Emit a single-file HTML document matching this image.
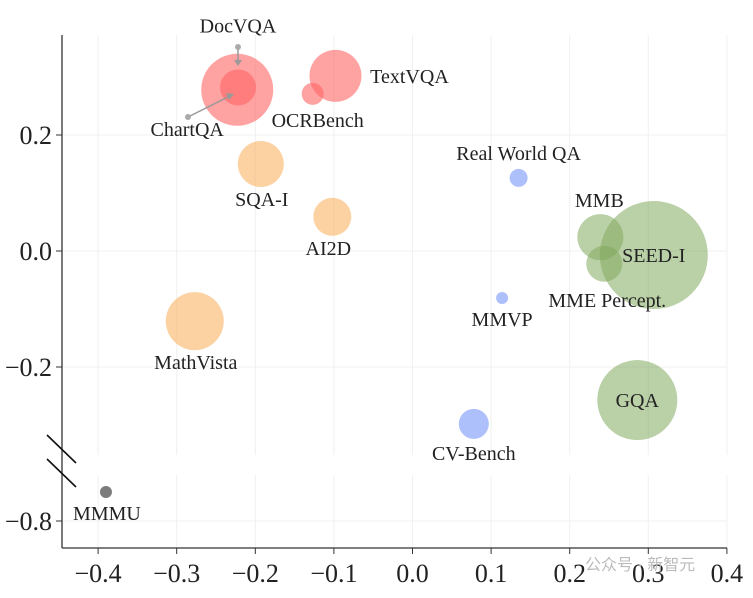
<!DOCTYPE html>
<html><head><meta charset="utf-8"><style>
body{margin:0;background:#fff;}
svg text{font-family:"Liberation Serif","Noto Serif CJK SC",serif;fill:#222;}
</style></head><body>
<svg id="chart" width="753" height="593" viewBox="0 0 753 593" xmlns="http://www.w3.org/2000/svg">
<g id="grid"></g>
<g id="bubbles"></g>
<g id="labels"></g>
<g id="axes"></g>
<text x="585" y="570" font-size="16" style="fill:#bbb;font-family:'Liberation Sans','Noto Sans CJK SC',sans-serif">公众号 · 新智元</text>
</svg>
<script>
const names=["DocVQA","ChartQA","TextVQA","OCRBench","SQA-I","AI2D","MathVista","Real World QA","MMVP","CV-Bench","MMB","MME Percept.","SEED-I","GQA","MMMU"];
const xs=[-0.222,-0.223,-0.098,-0.127,-0.193,-0.102,-0.277,0.135,0.114,0.078,0.239,0.244,0.307,0.286,-0.39];
const ys=[0.282,0.278,0.302,0.271,0.150,0.059,-0.121,0.126,-0.081,-0.298,0.024,-0.022,-0.007,-0.257,-0.75];
const sizes=[18,36,26,11,23,19,29,9,6,15,23,18,54,40,6];
const groups=["red","red","red","red","orange","orange","orange","blue","blue","blue","green","green","green","green","gray"];
const xTicks=[-0.4,-0.3,-0.2,-0.1,0.0,0.1,0.2,0.3,0.4];
const yTicks=[0.2,0.0,-0.2];
const yTicksLow=[-0.8];
const colors={red:"rgba(255,100,100,0.6)",orange:"rgba(250,180,100,0.6)",blue:"rgba(120,150,250,0.6)",green:"rgba(130,170,95,0.55)",gray:"rgba(110,110,110,0.9)"};
const X=v=>412.5+v*786;
const Y=v=>v<-0.5?521+(-0.8-v)*580:251-v*580;
const NS="http://www.w3.org/2000/svg";
function mk(tag,attrs,parent){const e=document.createElementNS(NS,tag);for(const k in attrs)e.setAttribute(k,attrs[k]);parent.appendChild(e);return e;}
const grid=document.getElementById('grid'),bub=document.getElementById('bubbles'),lab=document.getElementById('labels'),ax=document.getElementById('axes');
xTicks.forEach(t=>{
 const g1=mk('line',{x1:X(t),x2:X(t),y1:35,y2:455,stroke:"#f0f0f0"},grid);
 
 
 const g2=mk('line',{x1:X(t),x2:X(t),y1:475,y2:548,stroke:"#f0f0f0"},grid);
 
 
 const tk=mk('line',{x1:X(t),x2:X(t),y1:548,y2:554,stroke:"#333"},ax);
 
 
 const tx=mk('text',{x:X(t),y:582,"font-size":26,"text-anchor":"middle"},ax);
 tx.textContent=(t<0?"\u2212":"")+Math.abs(t).toFixed(1);
 
 
});
yTicks.concat(yTicksLow).forEach(t=>{
 const g=mk('line',{x1:62,x2:727,y1:Y(t),y2:Y(t),stroke:"#f0f0f0"},grid);
 
 
 const tk=mk('line',{x1:56,x2:62,y1:Y(t),y2:Y(t),stroke:"#333"},ax);
 
 
 const tx=mk('text',{x:52,y:Y(t)+9,"font-size":26,"text-anchor":"end"},ax);
 tx.textContent=(t<0?"\u2212":"")+Math.abs(t).toFixed(1);
 
 
});
const yl=mk('line',{x1:62,x2:62,y1:35,y2:548,stroke:"#333","stroke-width":1.3},ax);


const xl=mk('line',{x1:62,x2:727,y1:548,y2:548,stroke:"#333","stroke-width":1.3},ax);


[[435,463],[459,487]].forEach(p=>{
 const b=mk('line',{x1:47,y1:p[0],x2:76,y2:p[1],stroke:"#111","stroke-width":1.6},ax);
 
 
});
const order=names.map((n,i)=>i).sort((a,b)=>sizes[b]-sizes[a]);
order.forEach(i=>{
 const c=mk('circle',{cx:X(xs[i]),cy:Y(ys[i]),r:sizes[i],fill:colors[groups[i]]},bub);
 
 
});
const lx=[0,-50,74,5,1,-4,1,0,0,0,-1,3,0,0,1];
const ly=[-55,46,7,33,42,38,48,-18,28,36,-30,43,7,7,28];
names.forEach((n,i)=>{
 const t=mk('text',{x:X(xs[i])+lx[i],y:Y(ys[i])+ly[i],"font-size":20,"text-anchor":"middle"},lab);
 t.textContent=n;
 
 
});
const a1=mk('path',{d:"M238 47 L238 62",stroke:"#999","stroke-width":1.5,fill:"none"},lab);


mk('circle',{cx:238,cy:47,r:3,fill:"#aaa"},lab);
mk('path',{d:"M234 60 L238 66 L242 60 Z",fill:"#999"},lab);
const a2=mk('path',{d:"M188 117 L230 96",stroke:"#999","stroke-width":1.5,fill:"none"},lab);


mk('circle',{cx:188,cy:117,r:3,fill:"#aaa"},lab);
mk('path',{d:"M226 93 L234 94 L229 100 Z",fill:"#999"},lab);
</script>
</body></html>
